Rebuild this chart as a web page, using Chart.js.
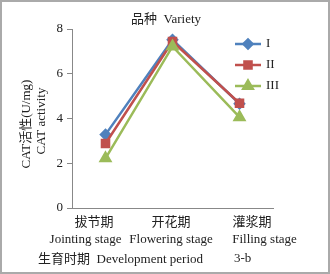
<!DOCTYPE html>
<html>
<head>
<meta charset="utf-8">
<script src="https://cdn.jsdelivr.net/npm/chart.js@4"></script>
<style>
  html, body { margin: 0; padding: 0; background: #fff; }
  #wrap { width: 330px; height: 274px; position: relative; }
</style>
</head>
<body>
<div id="wrap"><canvas id="c" width="330" height="274"></canvas></div>
<script>
// data
const stagesCn = ["拔节期", "开花期", "灌浆期"];
const stagesEn = ["Jointing stage", "Flowering stage", "Filling stage"];
const seriesNames = ["I", "II", "III"];
const varI = [3.28, 7.52, 4.66];
const varII = [2.88, 7.44, 4.68];
const varIII = [2.22, 7.22, 4.06];
const yTicks = [0, 2, 4, 6, 8];

const serif = "'Liberation Serif', 'Noto Sans CJK SC', serif";
const colors = ["#4F81BD", "#C0504D", "#9BBB59"];
const shapes = ["rectRot", "rect", "triangle"];
const radii = [4.5, 5, 5.5];

// posisi label kategori (tidak persis di tengah tick, ikut gambar asli)
const cnX = [94, 171, 252];
const enX = [85.5, 171, 264.5];

// teks tambahan: judul, judul sumbu y, label x, keterangan bawah, legenda
const extras = {
    id: "extras",
    afterDraw(chart) {
        const ctx = chart.ctx;
        ctx.save();
        ctx.fillStyle = "#222";
        ctx.textBaseline = "middle";
        ctx.font = "13px " + serif;
        ctx.textAlign = "center";
        ctx.fillText("品种  Variety", 166, 20);

        // judul sumbu y (dua baris, diputar)
        ctx.save();
        ctx.translate(27, 124);
        ctx.rotate(-Math.PI / 2);
        ctx.fillText("CAT活性(U/mg)", 0, 0);
        ctx.restore();
        ctx.save();
        ctx.translate(42, 121);
        ctx.rotate(-Math.PI / 2);
        ctx.fillText("CAT activity", 0, 0);
        ctx.restore();

        // label kategori dua baris
        stagesCn.forEach((t, i) => ctx.fillText(t, cnX[i], 223));
        stagesEn.forEach((t, i) => ctx.fillText(t, enX[i], 240));

        ctx.textAlign = "left";
        ctx.fillText("生育时期  Development period", 38, 260);
        ctx.fillText("3-b", 234, 259);

        // legenda
        const ly = [44, 65, 86];
        chart.data.datasets.forEach((ds, i) => {
            ctx.strokeStyle = ds.borderColor;
            ctx.lineWidth = 2.5;
            ctx.beginPath();
            ctx.moveTo(235, ly[i]);
            ctx.lineTo(261, ly[i]);
            ctx.stroke();
            ctx.fillStyle = ds.borderColor;
            Chart.helpers.drawPoint(ctx, {
                pointStyle: ds.pointStyle,
                radius: ds.pointRadius,
                rotation: 0,
                borderWidth: 1,
            }, 248, ly[i]);
            ctx.fillStyle = "#222";
            ctx.fillText(ds.label, 266, ly[i]);
        });

        // bingkai luar
        ctx.strokeStyle = "#aaa";
        ctx.lineWidth = 2;
        ctx.strokeRect(1, 1, 328, 272);
        ctx.restore();
    },
};

// seri belakangan digambar di atas (order kecil = paling atas)
const dataSets = [varI, varII, varIII].map((vals, i) => ({
    label: seriesNames[i],
    data: vals,
    order: 3 - i,
    borderColor: colors[i],
    backgroundColor: colors[i],
    pointBackgroundColor: colors[i],
    pointBorderColor: colors[i],
    pointStyle: shapes[i],
    pointRadius: radii[i],
    borderWidth: 2.5,
    tension: 0,
}));

new Chart(document.getElementById("c"), {
    type: "line",
    data: { labels: stagesCn, datasets: dataSets },
    plugins: [extras],
    options: {
        responsive: false,
        animation: false,
        layout: { padding: { top: 29, right: 57, left: 0, bottom: 0 } },
        plugins: { legend: { display: false }, tooltip: { enabled: false } },
        scales: {
            x: {
                offset: true,
                grid: { display: false, drawTicks: false },
                border: { display: true, color: "#888", width: 1 },
                ticks: { display: false },
                afterFit(scale) { scale.height = 66; },
            },
            y: {
                min: 0,
                max: 8,
                afterBuildTicks(scale) { scale.ticks = yTicks.map((v) => ({ value: v })); },
                grid: { drawOnChartArea: false, drawTicks: true, tickLength: 5, color: "#888" },
                border: { display: true, color: "#888", width: 1 },
                ticks: { color: "#222", font: { family: serif, size: 13 }, padding: 4 },
                afterFit(scale) { scale.width = 72; },
            },
        },
    },
});
</script>
</body>
</html>
